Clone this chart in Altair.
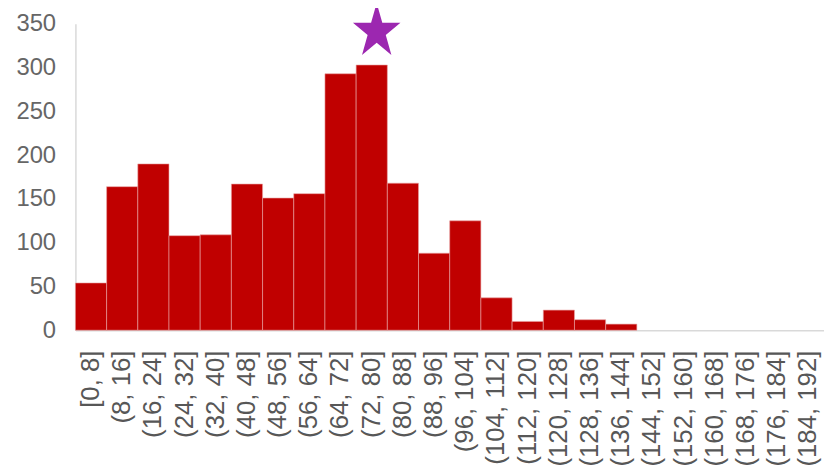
import altair as alt
import pandas as pd

bins = ["[0, 8]"] + [f"({a}, {a + 8}]" for a in range(8, 192, 8)]
counts = [54, 164, 190, 108, 109, 167, 151, 156, 293, 303, 168, 88,
          125, 37, 10, 23, 12, 7, 0, 0, 0, 0, 0, 0]
y_ticks = [0, 50, 100, 150, 200, 250, 300, 350]

star_bin = ["(72, 80]"]
star_value = [341]

df = pd.DataFrame({"bin": bins, "count": counts})
star_df = pd.DataFrame({"bin": star_bin, "count": star_value})

s = 1.15
pts = [(0, -1), (0.2245, -0.309), (0.9511, -0.309), (0.3633, 0.118),
       (0.5878, 0.809), (0, 0.382), (-0.5878, 0.809), (-0.3633, 0.118),
       (-0.9511, -0.309), (-0.2245, -0.309)]
star_path = "M" + "L".join(f"{x:.4f},{y * s:.4f}" for x, y in pts) + "Z"

x_enc = alt.X("bin:N", sort=bins,
              scale=alt.Scale(paddingInner=0, paddingOuter=0),
              axis=alt.Axis(title=None, labelAngle=270, ticks=False,
                            labelPadding=20, labelFontSize=26,
                            labelFont="Liberation Sans", labelColor="#575757",
                            domainColor="#d9d9d9", domainWidth=1.5))
y_scale = alt.Scale(domain=[0, 350], nice=False)

bars = alt.Chart(df).mark_bar(color="#c00000", stroke="#e9a3a3",
                              strokeWidth=0.6).encode(
    x=x_enc,
    y=alt.Y("count:Q", scale=y_scale,
            axis=alt.Axis(title=None, values=y_ticks, grid=False, ticks=False,
                          labelPadding=20, labelFontSize=24,
                          labelFont="Liberation Sans", labelColor="#666666",
                          domainColor="#d9d9d9", domainWidth=1.5)),
    strokeOpacity=alt.condition("datum.count > 0", alt.value(1), alt.value(0)),
    fillOpacity=alt.condition("datum.count > 0", alt.value(1), alt.value(0)),
)

star = alt.Chart(star_df).mark_point(shape=star_path, filled=True,
                                     color="#9c27b0", opacity=1, size=2540,
                                     xOffset=5).encode(
    x=alt.X("bin:N", sort=bins),
    y=alt.Y("count:Q", scale=y_scale),
)

chart = (bars + star).properties(
    width=755, height=309,
    autosize=alt.AutoSizeParams(type="none"),
    padding={"left": 68, "top": 14, "right": 0, "bottom": 140},
    background="white",
).configure_view(stroke=None)

chart.save("out.html", embed_options={"renderer": "svg", "actions": False})
